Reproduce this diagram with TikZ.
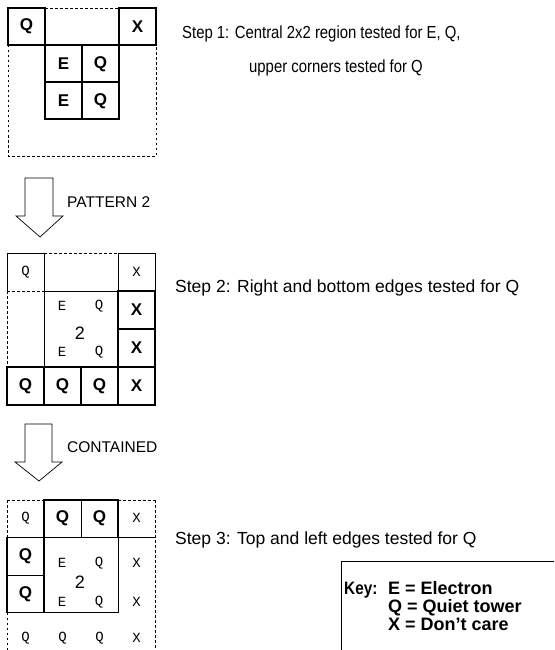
\documentclass[tikz,border=0pt]{standalone}
\usepackage{fontspec}
\setmainfont{Liberation Sans}
\newfontfamily\pale{Liberation Mono}
\begin{document}
\begin{tikzpicture}[x=1pt,y=-1pt,
  thk/.style={line width=1.3pt},
  thn/.style={line width=0.6pt},
  dsh/.style={line width=0.6pt,dash pattern=on 2.5pt off 2.5pt},
  bold/.style={font=\fontsize{17}{17}\selectfont\bfseries,inner sep=0pt},
  lite/.style={font=\pale\fontsize{14}{14}\selectfont,inner sep=0pt},
  big2/.style={font=\fontsize{18}{18}\selectfont,inner sep=0pt},
  steptxt/.style={font=\fontsize{17.5}{17.5}\selectfont,inner sep=0pt,anchor=base west},
  keytxt/.style={font=\fontsize{18}{18}\selectfont\bfseries,inner sep=0pt,anchor=base west},
  arrowtxt/.style={font=\fontsize{15.5}{15.5}\selectfont,inner sep=0pt,anchor=west},
  hollow/.style={line width=0.7pt}]
\useasboundingbox (0,0) rectangle (554,650);
\clip (0,0) rectangle (554,650);
% ---------- Grid 1 ----------
\draw[thk] (8,8) rectangle (45,45);
\draw[thk] (119,8) rectangle (156,45);
\draw[thk] (45,45) rectangle (119,119);
\draw[thk] (82,45) -- (82,119) (45,82) -- (119,82);
\draw[dsh] (45,8) -- (119,8) (8,45) -- (8,156) -- (156,156) -- (156,45);
\node[bold] (g1q) at (26.5,26.5) {Q};
\node[bold] (g1x) at (137.5,26.5) {X};
\node[bold] (g1e1) at (63.5,64) {E};
\node[bold] (g1q1) at (100.5,64) {Q};
\node[bold] (g1e2) at (63.5,101) {E};
\node[bold] (g1q2) at (100.5,101) {Q};
\node[steptxt] (s1a) at (182,39) {\scalebox{0.85}[1]{Step 1: Central 2x2 region tested for E, Q,}};
\node[steptxt] (s1b) at (249,73) {\scalebox{0.85}[1]{upper corners tested for Q}};
% ---------- Arrow 1 ----------
\draw[hollow] (25,178) -- (53,178) -- (53,216) -- (63,216) -- (40,237) -- (16,216) -- (25,216) -- cycle;
\node[arrowtxt] (a1) at (67,202) {PATTERN 2};
% ---------- Grid 2 ----------
\draw[thn] (7,291) -- (7,253) -- (44,253) -- (44,291);
\draw[dsh] (7,291) -- (44,291) (44,253) -- (118,253) (7,291) -- (7,367);
\draw[thn] (118,291) -- (118,253) -- (155,253) -- (155,291);
\draw[thn] (44,291) rectangle (118,367);
\draw[thk] (118,291) rectangle (155,367);
\draw[thk] (118,329) -- (155,329);
\draw[thk] (7,367) rectangle (155,405);
\draw[thk] (44,367) -- (44,405) (81,367) -- (81,405) (118,367) -- (118,405);
\node[lite] (g2q0) at (25.5,272) {Q};
\node[lite] (g2x0) at (136.5,272) {X};
\node[lite] (g2e1) at (62,306) {E};
\node[lite] (g2q1) at (99,306) {Q};
\node[big2] (g2n) at (80,333) {2};
\node[lite] (g2e2) at (62,352) {E};
\node[lite] (g2q2) at (99,352) {Q};
\node[bold] (g2x1) at (136.5,310) {X};
\node[bold] (g2x2) at (136.5,348) {X};
\node[bold] (g2b1) at (25.5,386) {Q};
\node[bold] (g2b2) at (62.5,386) {Q};
\node[bold] (g2b3) at (99.5,386) {Q};
\node[bold] (g2b4) at (136.5,386) {X};
\node[steptxt] (s2) at (175,292.5) {Step 2: Right and bottom edges tested for Q};
% ---------- Arrow 2 ----------
\draw[hollow] (25,424) -- (52,424) -- (52,462) -- (62,462) -- (39,481) -- (15,462) -- (25,462) -- cycle;
\node[arrowtxt] (a2) at (67,447) {CONTAINED};
% ---------- Grid 3 ----------
\draw[dsh] (7,500) -- (44,500) (118,500) -- (155,500) (7,500) -- (7,537.5) (7,612.5) -- (7,652) (155,500) -- (155,652);
\draw[thk] (44,500) rectangle (118,537.5);
\draw[thn] (81,500) -- (81,537.5);
\draw[thn] (118,537.5) -- (155,537.5);
\draw[thn] (44,537.5) rectangle (118,612.5);
\draw[thk] (7,537.5) rectangle (44,612.5);
\draw[thn] (7,575) -- (44,575);
\node[lite] (g3a) at (25.5,518) {Q};
\node[bold] (g3b) at (62.5,518) {Q};
\node[bold] (g3c) at (99.5,518) {Q};
\node[lite] (g3d) at (136.5,518) {X};
\node[bold] (g3l1) at (25.5,556) {Q};
\node[bold] (g3l2) at (25.5,594) {Q};
\node[lite] (g3e1) at (62,563) {E};
\node[lite] (g3q1) at (99,563) {Q};
\node[big2] (g3n) at (80,582) {2};
\node[lite] (g3e2) at (62,602) {E};
\node[lite] (g3q2) at (99,602) {Q};
\node[lite] (g3x1) at (136.5,563) {X};
\node[lite] (g3x2) at (136.5,602) {X};
\node[lite] (g3r1) at (25.5,638) {Q};
\node[lite] (g3r2) at (62.5,638) {Q};
\node[lite] (g3r3) at (99.5,638) {Q};
\node[lite] (g3r4) at (136.5,638) {X};
\node[steptxt] (s3) at (175,544.5) {Step 3: Top and left edges tested for Q};
% ---------- Key ----------
\draw[thn] (560,561) -- (341,561) -- (341,655);
\node[keytxt] (k0) at (344,594) {\scalebox{0.85}[1]{Key:}};
\node[keytxt] (k1) at (388,594) {E = Electron};
\node[keytxt] (k2) at (388,612) {Q = Quiet tower};
\node[keytxt] (k3) at (388,630) {X = Don’t care};
\end{tikzpicture}
\end{document}
